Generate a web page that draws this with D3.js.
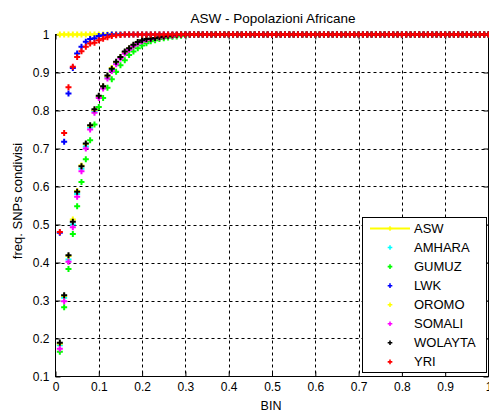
<!DOCTYPE html>
<html>
<head>
<meta charset="utf-8">
<script src="https://cdn.jsdelivr.net/npm/d3@7"></script>
<style>
  body { margin: 0; background: #fff; }
  svg text { font-family: "Liberation Sans", Arial, sans-serif; fill: #000; }
</style>
</head>
<body>
<script>
const WIDTH = 489;
const HEIGHT = 412;

var bins = [
  0.01,0.02,0.03,0.04,0.05,0.06,0.07,0.08,0.09,0.10,
  0.11,0.12,0.13,0.14,0.15,0.16,0.17,0.18,0.19,0.20,
  0.21,0.22,0.23,0.24,0.25,0.26,0.27,0.28,0.29,0.30,
  0.31,0.32,0.33,0.34,0.35,0.36,0.37,0.38,0.39,0.40,
  0.41,0.42,0.43,0.44,0.45,0.46,0.47,0.48,0.49,0.50,
  0.51,0.52,0.53,0.54,0.55,0.56,0.57,0.58,0.59,0.60,
  0.61,0.62,0.63,0.64,0.65,0.66,0.67,0.68,0.69,0.70,
  0.71,0.72,0.73,0.74,0.75,0.76,0.77,0.78,0.79,0.80,
  0.81,0.82,0.83,0.84,0.85,0.86,0.87,0.88,0.89,0.90,
  0.91,0.92,0.93,0.94,0.95,0.96,0.97,0.98,0.99,1.00
];

var asw = [
  1,1,1,1,1,1,1,1,1,1, 1,1,1,1,1,1,1,1,1,1,
  1,1,1,1,1,1,1,1,1,1, 1,1,1,1,1,1,1,1,1,1,
  1,1,1,1,1,1,1,1,1,1, 1,1,1,1,1,1,1,1,1,1,
  1,1,1,1,1,1,1,1,1,1, 1,1,1,1,1,1,1,1,1,1,
  1,1,1,1,1,1,1,1,1,1, 1,1,1,1,1,1,1,1,1,1
];
var amhara = [
  0.182,0.307,0.408,0.500,0.580,0.647,0.705,0.755,0.798,0.836,
  0.862,0.888,0.907,0.925,0.940,0.953,0.962,0.971,0.978,0.983,
  0.987,0.989,0.991,0.993,0.995,0.997,0.998,0.999,1,1,
  1,1,1,1,1,1,1,1,1,1, 1,1,1,1,1,1,1,1,1,1,
  1,1,1,1,1,1,1,1,1,1, 1,1,1,1,1,1,1,1,1,1,
  1,1,1,1,1,1,1,1,1,1, 1,1,1,1,1,1,1,1,1,1,
  1,1,1,1,1,1,1,1,1,1
];
var gumuz = [
  0.165,0.282,0.383,0.475,0.548,0.612,0.672,0.722,0.763,0.809,
  0.833,0.860,0.882,0.902,0.919,0.932,0.946,0.955,0.964,0.971,
  0.977,0.982,0.985,0.988,0.990,0.992,0.994,0.995,0.997,0.998,
  0.999,1,1,1,1,1,1,1,1,1,
  1,1,1,1,1,1,1,1,1,1, 1,1,1,1,1,1,1,1,1,1,
  1,1,1,1,1,1,1,1,1,1, 1,1,1,1,1,1,1,1,1,1,
  1,1,1,1,1,1,1,1,1,1, 1,1,1,1,1,1,1,1,1,1
];
var lwk = [
  0.478,0.718,0.845,0.912,0.950,0.968,0.981,0.988,0.990,0.996,
  0.998,0.999,1,1,1,1,1,1,1,1,
  1,1,1,1,1,1,1,1,1,1, 1,1,1,1,1,1,1,1,1,1,
  1,1,1,1,1,1,1,1,1,1, 1,1,1,1,1,1,1,1,1,1,
  1,1,1,1,1,1,1,1,1,1, 1,1,1,1,1,1,1,1,1,1,
  1,1,1,1,1,1,1,1,1,1, 1,1,1,1,1,1,1,1,1,1
];
var oromo = [
  0.186,0.312,0.417,0.513,0.588,0.655,0.712,0.760,0.801,0.837,
  0.863,0.890,0.912,0.927,0.941,0.954,0.963,0.972,0.979,0.984,
  0.987,0.989,0.991,0.993,0.995,0.997,0.998,0.999,1,1,
  1,1,1,1,1,1,1,1,1,1, 1,1,1,1,1,1,1,1,1,1,
  1,1,1,1,1,1,1,1,1,1, 1,1,1,1,1,1,1,1,1,1,
  1,1,1,1,1,1,1,1,1,1, 1,1,1,1,1,1,1,1,1,1,
  1,1,1,1,1,1,1,1,1,1
];
var somali = [
  0.173,0.298,0.402,0.493,0.573,0.640,0.700,0.750,0.794,0.833,
  0.858,0.884,0.904,0.922,0.937,0.950,0.960,0.969,0.976,0.982,
  0.986,0.988,0.990,0.992,0.994,0.996,0.997,0.998,0.999,1,
  1,1,1,1,1,1,1,1,1,1, 1,1,1,1,1,1,1,1,1,1,
  1,1,1,1,1,1,1,1,1,1, 1,1,1,1,1,1,1,1,1,1,
  1,1,1,1,1,1,1,1,1,1, 1,1,1,1,1,1,1,1,1,1,
  1,1,1,1,1,1,1,1,1,1
];
var wolayta = [
  0.189,0.314,0.419,0.507,0.586,0.653,0.713,0.761,0.803,0.839,
  0.864,0.892,0.910,0.928,0.941,0.955,0.964,0.973,0.980,0.985,
  0.988,0.989,0.991,0.993,0.995,0.997,0.998,0.999,1,1,
  1,1,1,1,1,1,1,1,1,1, 1,1,1,1,1,1,1,1,1,1,
  1,1,1,1,1,1,1,1,1,1, 1,1,1,1,1,1,1,1,1,1,
  1,1,1,1,1,1,1,1,1,1, 1,1,1,1,1,1,1,1,1,1,
  1,1,1,1,1,1,1,1,1,1
];
var yri = [
  0.480,0.741,0.861,0.915,0.941,0.956,0.968,0.976,0.978,0.985,
  0.989,0.993,0.996,0.998,0.999,1,1,1,1,1,
  1,1,1,1,1,1,1,1,1,1, 1,1,1,1,1,1,1,1,1,1,
  1,1,1,1,1,1,1,1,1,1, 1,1,1,1,1,1,1,1,1,1,
  1,1,1,1,1,1,1,1,1,1, 1,1,1,1,1,1,1,1,1,1,
  1,1,1,1,1,1,1,1,1,1, 1,1,1,1,1,1,1,1,1,1
];

var seriesNames = ['ASW','AMHARA','GUMUZ','LWK','OROMO','SOMALI','WOLAYTA','YRI'];
var seriesValues = [asw, amhara, gumuz, lwk, oromo, somali, wolayta, yri];
var seriesColors = ['#ffff00','#00ffff','#00ff00','#0000ff','#ffff00','#ff00ff','#000000','#ff0000'];

var xTicks = [0,0.1,0.2,0.3,0.4,0.5,0.6,0.7,0.8,0.9,1];
var yTicks = [0.1,0.2,0.3,0.4,0.5,0.6,0.7,0.8,0.9,1];

var plot = {left: 55.5, right: 488.5, top: 34.5, bottom: 376.5};

var series = seriesNames.map(function(name, i) {
    return {name: name, color: seriesColors[i], line: i === 0,
        points: bins.map(function(b, j) { return {x: b, y: seriesValues[i][j]}; })};
});

var svg = d3.select('body').append('svg')
    .attr('width', WIDTH)
    .attr('height', HEIGHT);

var xScale = d3.scaleLinear().domain([0, 1]).range([plot.left, plot.right]);
var yScale = d3.scaleLinear().domain([0.1, 1]).range([plot.bottom, plot.top]);

// dashed grid
var grid = svg.append('g');
grid.selectAll('line.gx')
    .data(xTicks.slice(1, -1))
    .enter().append('line')
    .attr('x1', function(d) { return Math.round(xScale(d)) + 0.5; })
    .attr('x2', function(d) { return Math.round(xScale(d)) + 0.5; })
    .attr('y1', plot.top).attr('y2', plot.bottom);
grid.selectAll('line.gy')
    .data(yTicks.slice(1, -1))
    .enter().append('line')
    .attr('y1', function(d) { return Math.round(yScale(d)) + 0.5; })
    .attr('y2', function(d) { return Math.round(yScale(d)) + 0.5; })
    .attr('x1', plot.left).attr('x2', plot.right);
grid.selectAll('line')
    .attr('stroke', '#000')
    .attr('stroke-width', 1)
    .attr('stroke-dasharray', '3,3');

// axes, ticks inside like matlab
var fmt = function(d) { return d3.format('~g')(d); };
var h = plot.bottom - plot.top;
var w = plot.right - plot.left;

svg.append('g')
    .attr('transform', 'translate(0,' + plot.bottom + ')')
    .call(d3.axisBottom(xScale).tickValues(xTicks).tickFormat(fmt).tickSizeInner(-5).tickSizeOuter(0).tickPadding(6));
svg.append('g')
    .attr('transform', 'translate(0,' + plot.top + ')')
    .call(d3.axisTop(xScale).tickValues(xTicks).tickFormat('').tickSizeInner(-5).tickSizeOuter(0));
svg.append('g')
    .attr('transform', 'translate(' + plot.left + ',0)')
    .call(d3.axisLeft(yScale).tickValues(yTicks).tickFormat(fmt).tickSizeInner(-5).tickSizeOuter(0).tickPadding(6));
svg.append('g')
    .attr('transform', 'translate(' + plot.right + ',0)')
    .call(d3.axisRight(yScale).tickValues(yTicks).tickFormat('').tickSizeInner(-5).tickSizeOuter(0));

svg.selectAll('.domain').remove();
svg.selectAll('.tick text').style('font-size', '12px').style('font-family', '"Liberation Sans", Arial, sans-serif');

svg.append('rect')
    .attr('x', plot.left).attr('y', plot.top)
    .attr('width', w).attr('height', h)
    .attr('fill', 'none').attr('stroke', '#000');

// data
var marker = d3.symbol().type(d3.symbolCross).size(20);
var lineGen = d3.line()
    .x(function(d) { return xScale(d.x); })
    .y(function(d) { return yScale(d.y); });

series.forEach(function(s) {
    var g = svg.append('g');
    if (s.line) {
        g.append('path')
            .attr('d', lineGen(s.points))
            .attr('fill', 'none')
            .attr('stroke', s.color)
            .attr('stroke-width', 2);
    }
    g.selectAll('path.m')
        .data(s.points)
        .enter().append('path')
        .attr('class', 'm')
        .attr('d', marker)
        .attr('transform', function(d) { return 'translate(' + xScale(d.x) + ',' + yScale(d.y) + ')'; })
        .attr('fill', s.color);
});

// legend
var legend = svg.append('g');
legend.append('rect')
    .attr('x', 362.5).attr('y', 217.5)
    .attr('width', 124).attr('height', 155)
    .attr('fill', '#fff').attr('stroke', '#000');

var legendMarker = d3.symbol().type(d3.symbolCross).size(12);
var items = legend.selectAll('g.item')
    .data(series)
    .enter().append('g')
    .attr('transform', function(d, i) { return 'translate(0,' + (228.5 + i * 19.05) + ')'; });

items.filter(function(d) { return d.line; })
    .append('line')
    .attr('x1', 370).attr('x2', 410)
    .attr('stroke', function(d) { return d.color; })
    .attr('stroke-width', 2);
items.append('path')
    .attr('d', legendMarker)
    .attr('transform', 'translate(390,0)')
    .attr('fill', function(d) { return d.color; });
items.append('text')
    .attr('x', 414)
    .attr('y', 4.5)
    .style('font-size', '13px')
    .text(function(d) { return d.name; });

// labels
svg.append('text')
    .attr('x', 273).attr('y', 23)
    .attr('text-anchor', 'middle')
    .style('font-size', '13.5px')
    .text('ASW - Popolazioni Africane');
svg.append('text')
    .attr('x', 271).attr('y', 410)
    .attr('text-anchor', 'middle')
    .style('font-size', '12.5px')
    .text('BIN');
svg.append('text')
    .attr('transform', 'translate(22,201) rotate(-90)')
    .attr('text-anchor', 'middle')
    .style('font-size', '13px')
    .text('freq. SNPs condivisi');
</script>
</body>
</html>
